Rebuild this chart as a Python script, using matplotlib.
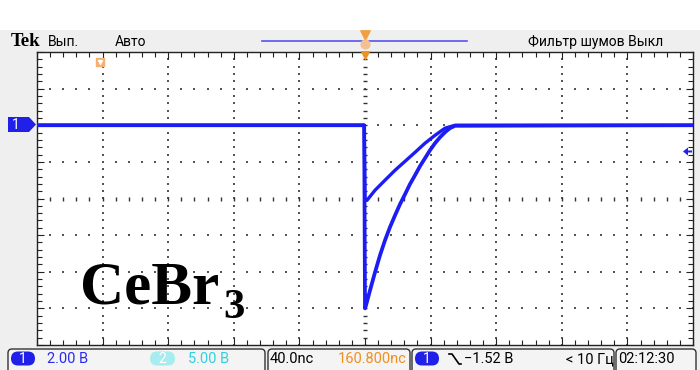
import numpy as np
import matplotlib.pyplot as plt
from matplotlib.patches import FancyBboxPatch, Polygon, Rectangle
from matplotlib.ticker import MultipleLocator

# screen settings (40 ns/div, 2 V/div, ground of channel 1 two divisions above centre)
ns_per_div = 40
v_per_div = 2
t_range = (-200, 200)
v_range = (-12, 4)
trigger_level = -1.52

# trace: time in ns from trigger, volts
shallow_t = [-200, -0.5, 0.0, 1.2, 6.1, 12.2, 18.3, 24.4, 30.5, 36.6, 42.7, 48.8, 54.9, 200]
shallow_v = [0, 0, -4.1, -4.1, -3.55, -3.0, -2.46, -1.97, -1.48, -0.98, -0.55, -0.16, 0, 0]
deep_t = [-200, -0.5, 0.0, 0.6, 3.05, 6.1, 9.15, 12.2, 15.2, 18.3, 21.3, 24.4, 27.4, 30.5,
          33.5, 36.6, 39.6, 42.7, 45.7, 48.8, 51.8, 54.9, 200]
deep_v = [0, 0, -10.0, -9.84, -9.02, -8.03, -7.1, -6.28, -5.57, -4.92, -4.32, -3.77, -3.22, -2.73,
          -2.24, -1.80, -1.37, -0.98, -0.66, -0.38, -0.16, -0.03, 0]

# status texts
top_left = ["Вып.", "Авто"]
top_right = "Фильтр шумов Выкл"
ch1_scale = "2.00 В"
ch2_scale = "5.00 В"
time_scale = "40.0nс"
h_pos = "160.800nс"
trig_text = "−1.52 В"
freq_text = "< 10 Гц"
clock = "02:12:30"

trace_col = "#1c1cf5"
ui_font = ["Liberation Sans Narrow", "Roboto", "DejaVu Sans"]

fig = plt.figure(figsize=(7, 3.7), dpi=100, facecolor="#efefef")

# graticule
ax = fig.add_axes([37 / 700, 25 / 370, 656 / 700, 293 / 370], zorder=1)
ax.set_facecolor("white")
ax.set_xlim(*t_range)
ax.set_ylim(*v_range)
ax.xaxis.set_major_locator(MultipleLocator(ns_per_div))
ax.xaxis.set_minor_locator(MultipleLocator(ns_per_div / 5))
ax.yaxis.set_major_locator(MultipleLocator(v_per_div))
ax.yaxis.set_minor_locator(MultipleLocator(v_per_div / 5))
ax.tick_params(which="both", direction="in", top=True, right=True,
               labelbottom=False, labelleft=False, color="#222222", width=0.8)
ax.tick_params(which="major", length=5)
ax.tick_params(which="minor", length=3.5)
for s in ax.spines.values():
    s.set_color("#222222")
    s.set_linewidth(1.0)

t_mid = 0.0
v_mid = (v_range[0] + v_range[1]) / 2
# dotted division lines
vx = np.arange(t_range[0] + ns_per_div, t_range[1], ns_per_div)
vx = vx[vx != t_mid]
vy = np.arange(v_range[0], v_range[1] + 0.01, v_per_div / 5)
gx, gy = np.meshgrid(vx, vy)
ax.scatter(gx.ravel(), gy.ravel(), s=1.1, marker="s", color="#555555", lw=0, zorder=1)
hy = np.arange(v_range[0] + v_per_div, v_range[1], v_per_div)
hy = hy[hy != v_mid]
hx = np.arange(t_range[0], t_range[1] + 0.01, ns_per_div / 5)
gx, gy = np.meshgrid(hx, hy)
ax.scatter(gx.ravel(), gy.ravel(), s=1.1, marker="s", color="#555555", lw=0, zorder=1)
# centre lines with small ticks
ax.scatter(np.full(vy.shape, t_mid), vy, s=12, marker="_", color="#333333", lw=1, zorder=1)
ax.scatter(hx, np.full(hx.shape, v_mid), s=8, marker="|", color="#333333", lw=1, zorder=1)

ax.plot(deep_t, deep_v, color=trace_col, lw=2.7, solid_joinstyle="round", zorder=3)
ax.plot(shallow_t, shallow_v, color=trace_col, lw=2.4, solid_joinstyle="round", zorder=3)

# overlay in pixel coordinates
ui = fig.add_axes([0, 0, 1, 1], zorder=5)
ui.set_xlim(0, 700)
ui.set_ylim(370, 0)
ui.axis("off")
ui.patch.set_visible(False)

ui.add_patch(Rectangle((0, 0), 700, 30, color="white", lw=0))
ui.text(11, 45.5, "Tek", fontfamily="Liberation Serif", fontweight="bold", fontsize=13.5, va="baseline")
ui.text(48, 46, top_left[0], fontfamily=ui_font, fontsize=10, va="baseline")
ui.text(115, 46, top_left[1], fontfamily=ui_font, fontsize=10, va="baseline")
ui.text(663, 46, top_right, fontfamily=ui_font, fontsize=10, va="baseline", ha="right")
ui.plot([262, 467], [41, 41], color="#5555ee", lw=1.2)
ui.scatter([365], [35], marker="v", s=45, color="#f0a040", zorder=6)
ui.scatter([365], [44], marker="o", s=40, color="#f5c090", zorder=6)
ui.scatter([365], [55], marker="v", s=30, color="#f09020", zorder=6)
ui.scatter([100], [62], marker="s", s=28, color="#f5b070", zorder=6)
ui.scatter([100], [62], marker="v", s=8, color="white", zorder=7)

# channel 1 ground marker and trigger level arrow
ui.add_patch(Polygon([(8, 117), (29, 117), (36, 124.5), (29, 132), (8, 132)],
                     closed=True, color="#2020e8", lw=0))
ui.text(16, 125, "1", color="white", fontfamily=ui_font, fontsize=10, va="center", ha="center")
ui.add_patch(Polygon([(683, 151.5), (688, 147.5), (688, 150.5), (692, 150.5),
                      (692, 152.5), (688, 152.5), (688, 155.5)],
                     closed=True, color="#2020e8", lw=0))

# sample label
ui.text(80, 303, "CeBr", fontfamily="Liberation Serif", fontweight="bold", fontsize=44, va="baseline")
ui.text(223, 318, "3", fontfamily="Liberation Serif", fontweight="bold", fontsize=31, va="baseline")

# bottom status boxes
for x0, x1 in [(8, 265), (268, 410), (412, 614), (616, 696)]:
    ui.add_patch(FancyBboxPatch((x0, 349), x1 - x0, 30, boxstyle="round,pad=0,rounding_size=4",
                                fc="#f4f4f4", ec="#333333", lw=1.0))
ui.add_patch(FancyBboxPatch((11, 351.5), 24, 14, boxstyle="round,pad=0,rounding_size=7",
                            fc="#2020e8", ec="none"))
ui.text(23, 359, "1", color="white", fontfamily=ui_font, fontsize=10, va="center", ha="center")
ui.text(47, 359, ch1_scale, color="#2a2af0", fontfamily=ui_font, fontsize=10.5, va="center")
ui.add_patch(FancyBboxPatch((150, 351.5), 25, 14, boxstyle="round,pad=0,rounding_size=7",
                            fc="#a8ecf0", ec="none"))
ui.text(162.5, 359, "2", color="white", fontfamily=ui_font, fontsize=10, va="center", ha="center")
ui.text(188, 359, ch2_scale, color="#30d0e0", fontfamily=ui_font, fontsize=10.5, va="center")
ui.text(270, 359, time_scale, color="black", fontfamily=ui_font, fontsize=10.5, va="center")
ui.text(407, 359, h_pos, color="#f09020", fontfamily=ui_font, fontsize=10.5, va="center", ha="right")
ui.add_patch(FancyBboxPatch((415, 351.5), 24, 14, boxstyle="round,pad=0,rounding_size=7",
                            fc="#2020e8", ec="none"))
ui.text(427, 359, "1", color="white", fontfamily=ui_font, fontsize=10, va="center", ha="center")
ui.plot([449, 452, 459, 461], [354, 354, 364, 364], color="black", lw=1.2)
ui.text(464, 359, trig_text, color="black", fontfamily=ui_font, fontsize=10.5, va="center")
ui.text(566, 359, freq_text, color="black", fontfamily=ui_font, fontsize=10.5, va="center")
ui.text(618, 359, clock, color="black", fontfamily=ui_font, fontsize=10.5, va="center")

fig.savefig("out.png", dpi=100, facecolor=fig.get_facecolor())
